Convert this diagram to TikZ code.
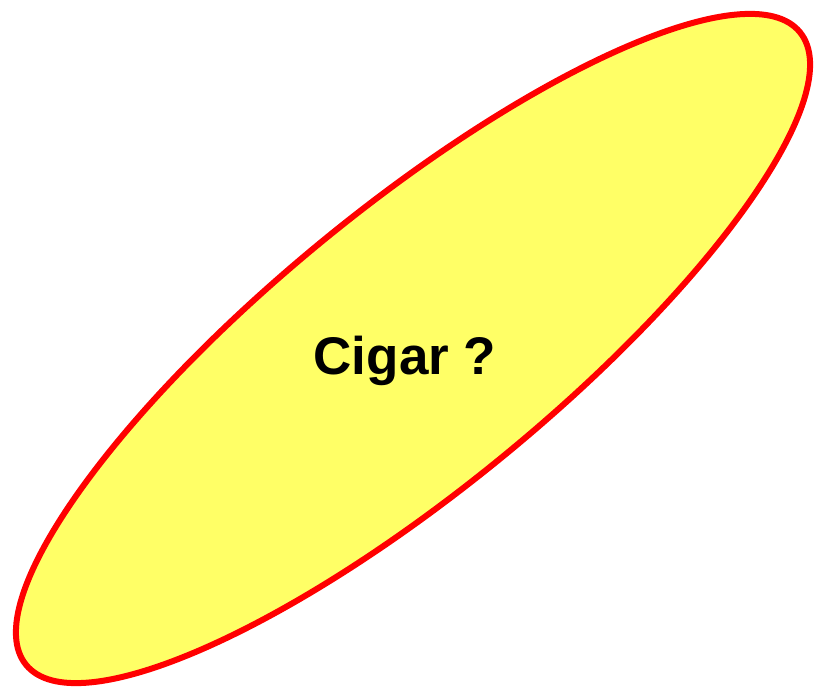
\documentclass[tikz,border=0pt]{standalone}
\usepackage{fontspec}
\setmainfont{Liberation Sans}
\definecolor{cigarfill}{HTML}{FFFF66}
\definecolor{cigarline}{HTML}{FF0000}
\begin{document}
\begin{tikzpicture}[x=1pt,y=-1pt,
  cigar/.style={draw=cigarline,fill=cigarfill,line width=6pt},
  label/.style={font=\fontsize{53}{60}\selectfont\bfseries,anchor=base}]
\useasboundingbox (0,0) rectangle (822,692);
\draw[cigar] (413,348.5) circle[x radius=499.8pt,y radius=140.5pt,rotate=39.27];
\node[label] (t) at (405,375) {Cigar ?};
\end{tikzpicture}
\end{document}
